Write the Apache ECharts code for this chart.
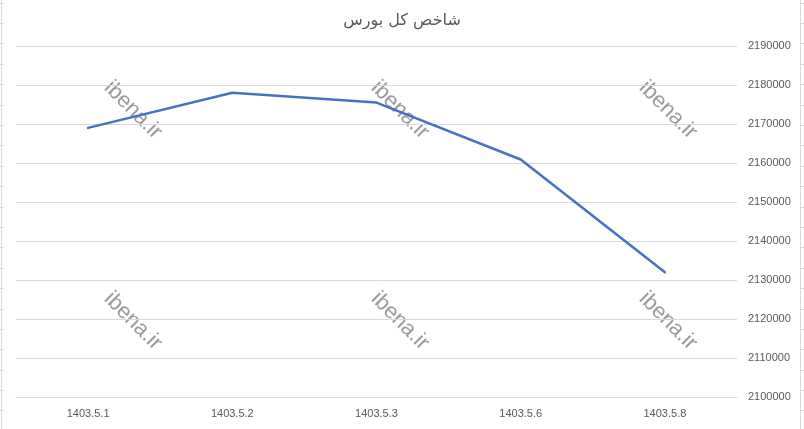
<!DOCTYPE html>
<html>
<head>
<meta charset="utf-8">
<script src="https://cdn.jsdelivr.net/npm/echarts@6/dist/echarts.min.js"></script>
<style>html,body{margin:0;padding:0;background:#fff;}#chart{width:804px;height:429px;}</style>
</head>
<body>
<div id="chart"></div>
<script>
const titleText = 'شاخص کل بورس';
const categories = ['1403.5.1', '1403.5.2', '1403.5.3', '1403.5.6', '1403.5.8'];
const indexValues = [2169000, 2178000, 2175500, 2160900, 2132000];
const yMin = 2100000, yMax = 2190000, yStep = 10000;

const chart = echarts.init(document.getElementById('chart'), null, {renderer: 'canvas'});

const watermarkPos = [[133,110],[400,110],[668,110],[133,321],[400,321],[668,321]];
const graphics = [];
watermarkPos.forEach(p => {
  graphics.push({
    type: 'text', x: p[0], y: p[1], rotation: -Math.PI/4, z: 0,
    style: {text: 'ibena.ir', fill: 'rgba(120,120,120,0.75)', font: '22px "Liberation Sans", Arial, sans-serif', align: 'center', verticalAlign: 'middle'}
  });
});
// sheet cell borders at edges
graphics.push({type:'line', shape:{x1:1.5,y1:0,x2:1.5,y2:429}, style:{stroke:'#d9d9d9', lineWidth:1}});
graphics.push({type:'line', shape:{x1:800.5,y1:0,x2:800.5,y2:429}, style:{stroke:'#d9d9d9', lineWidth:1}});
for (let y = 2.5; y < 429; y += 20.4) {
  const yy = Math.round(y) + 0.5;
  graphics.push({type:'line', shape:{x1:0,y1:yy,x2:4,y2:yy}, style:{stroke:'#d9d9d9', lineWidth:1}});
  graphics.push({type:'line', shape:{x1:800,y1:yy,x2:804,y2:yy}, style:{stroke:'#d9d9d9', lineWidth:1}});
}

const labelFont = '"Liberation Sans", Arial, sans-serif';

chart.setOption({
  animation: false,
  backgroundColor: '#fff',
  title: {
    text: titleText, left: 'center', top: 8,
    textStyle: {fontFamily: '"DejaVu Sans", sans-serif', fontSize: 16, fontWeight: 'normal', color: '#595959'}
  },
  grid: {left: 16, right: 67, top: 46, bottom: 32, containLabel: false},
  xAxis: {
    type: 'category', data: categories, boundaryGap: true,
    axisLine: {show: true, lineStyle: {color: '#d9d9d9', width: 1}},
    axisTick: {show: false},
    axisLabel: {color: '#595959', fontFamily: labelFont, fontSize: 11, margin: 11}
  },
  yAxis: {
    type: 'value', position: 'right', min: yMin, max: yMax, interval: yStep,
    axisLine: {show: false}, axisTick: {show: false},
    splitLine: {lineStyle: {color: '#d9d9d9', width: 1}},
    axisLabel: {color: '#595959', fontFamily: labelFont, fontSize: 11, margin: 11, formatter: v => String(v)}
  },
  series: [{
    type: 'line', data: indexValues, showSymbol: false, symbol: 'none', z: 3,
    lineStyle: {color: '#4472C4', width: 2.5, cap: 'round', join: 'round'}
  }],
  graphic: graphics
});
</script>
</body>
</html>
